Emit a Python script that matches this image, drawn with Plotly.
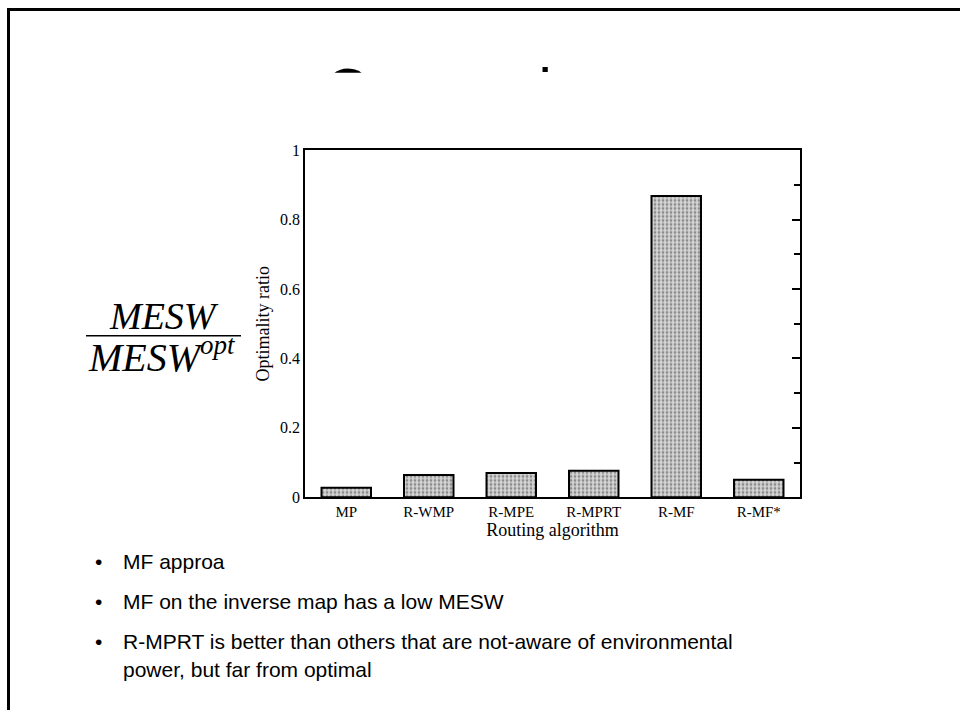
import plotly.graph_objects as go

# ---- data ----
categories = ["MP", "R-WMP", "R-MPE", "R-MPRT", "R-MF", "R-MF*"]
optimality_ratio = [0.027, 0.064, 0.070, 0.076, 0.869, 0.050]
y_ticks = [0, 0.2, 0.4, 0.6, 0.8, 1]
y_tick_labels = ["0", "0.2", "0.4", "0.6", "0.8", "1"]
bullets = [
    "MF approa",
    "MF on the inverse map has a low MESW",
    "R-MPRT is better than others that are not-aware of environmental",
    "power, but far from optimal",
]
slide_title = "Comparison"

W, H = 960, 719
def px(x):
    return x / W
def py(y):
    # screen-pixel y -> paper fraction (compensates the observed page offset/scale)
    fy = (y - 7) / 0.98
    return 1 - fy / H

serif = "Liberation Serif, Times New Roman, serif"
sans = "Liberation Sans, Arial, sans-serif"

fig = go.Figure()

fig.add_trace(go.Bar(
    x=categories, y=optimality_ratio, width=0.6,
    marker=dict(color="#b8b8b8",
                line=dict(color="black", width=2),
                pattern=dict(shape=".", fgcolor="#404040", bgcolor="#d6d6d6",
                             size=4, solidity=0.38)),
    hoverinfo="skip", showlegend=False,
))
# invisible trace to carry the right-side tick axis
fig.add_trace(go.Scatter(
    x=categories, y=optimality_ratio, yaxis="y2", mode="markers",
    marker=dict(opacity=0), hoverinfo="skip", showlegend=False,
))
# slide title, clipped by a thin strip (only its top is visible)
fig.add_trace(go.Scatter(
    x=[325], y=[124], xaxis="x3", yaxis="y3", mode="text",
    text=[slide_title], textposition="top right",
    textfont=dict(family=sans, size=60, color="black"),
    cliponaxis=True, hoverinfo="skip", showlegend=False,
))

fig.update_layout(
    width=W, height=H,
    margin=dict(l=0, r=0, t=0, b=0),
    paper_bgcolor="white", plot_bgcolor="white",
    showlegend=False,
    xaxis=dict(domain=[px(305), px(800)], range=[-0.5, 5.5],
               showline=True, mirror=True, linecolor="black", linewidth=1.5,
               ticks="", showgrid=False, zeroline=False,
               tickfont=dict(family=serif, size=15, color="black"),
               title=dict(text="Routing algorithm", standoff=2,
                          font=dict(family=serif, size=18, color="black"))),
    yaxis=dict(domain=[py(498), py(150)], range=[0, 1],
               tickvals=y_ticks, ticktext=y_tick_labels,
               showline=True, mirror=True, linecolor="black", linewidth=1.5,
               ticks="", showgrid=False, zeroline=False,
               tickfont=dict(family=serif, size=16, color="black"),
               title=dict(text="Optimality ratio", standoff=6,
                          font=dict(family=serif, size=18, color="black"))),
    yaxis2=dict(overlaying="y", side="right", range=[0, 1],
                tickvals=y_ticks, showticklabels=False,
                ticks="inside", ticklen=8, tickwidth=1.5, tickcolor="black",
                minor=dict(dtick=0.1, ticks="inside", ticklen=6, tickwidth=1.5,
                           tickcolor="black"),
                showgrid=False, zeroline=False, showline=False),
    xaxis3=dict(domain=[0, 1], range=[0, W], visible=False, anchor="y3",
                fixedrange=True),
    yaxis3=dict(domain=[py(72), py(22)], range=[72, 22], visible=False,
                anchor="x3", fixedrange=True),
)

# slide frame (top and left edges)
top_edge = 1 - 1.5 / H
fig.add_shape(type="line", xref="paper", yref="paper",
              x0=px(7), x1=1, y0=top_edge, y1=top_edge,
              line=dict(color="black", width=3))
fig.add_shape(type="line", xref="paper", yref="paper",
              x0=px(8.5), x1=px(8.5), y0=top_edge, y1=0,
              line=dict(color="black", width=3))

# MESW / MESW^opt fraction
fig.add_annotation(x=px(164), y=py(316), xref="paper", yref="paper",
                   text="<i>MESW</i>", showarrow=False,
                   font=dict(family=serif, size=38, color="black"),
                   xanchor="center", yanchor="middle")
fig.add_annotation(x=px(86), y=py(355), xref="paper", yref="paper",
                   text="<i>MESW</i><sup><span style='font-size:27px'>"
                        "<i>opt</i></span></sup>",
                   showarrow=False,
                   font=dict(family=serif, size=40, color="black"),
                   xanchor="left", yanchor="middle")
fig.add_shape(type="line", xref="paper", yref="paper",
              x0=px(86), x1=px(241), y0=py(336), y1=py(336),
              line=dict(color="black", width=1.5))

# bullets
bullet_y = [563, 603, 643, 671]
for i, (t, yy) in enumerate(zip(bullets, bullet_y)):
    if i != 3:
        fig.add_annotation(x=px(98), y=py(yy), xref="paper", yref="paper",
                           text="•", showarrow=False,
                           font=dict(family=sans, size=21, color="black"),
                           xanchor="center", yanchor="middle")
    fig.add_annotation(x=px(121), y=py(yy), xref="paper", yref="paper",
                       text=t, showarrow=False,
                       font=dict(family=sans, size=21, color="black"),
                       xanchor="left", yanchor="middle")

fig.write_html(
    "out.html",
    config={"displayModeBar": False},
    post_script=("document.body.style.margin='0px';"
                 "document.body.style.padding='0px';"
                 "document.documentElement.style.overflow='hidden';"
                 "document.body.style.overflow='hidden';"),
)
